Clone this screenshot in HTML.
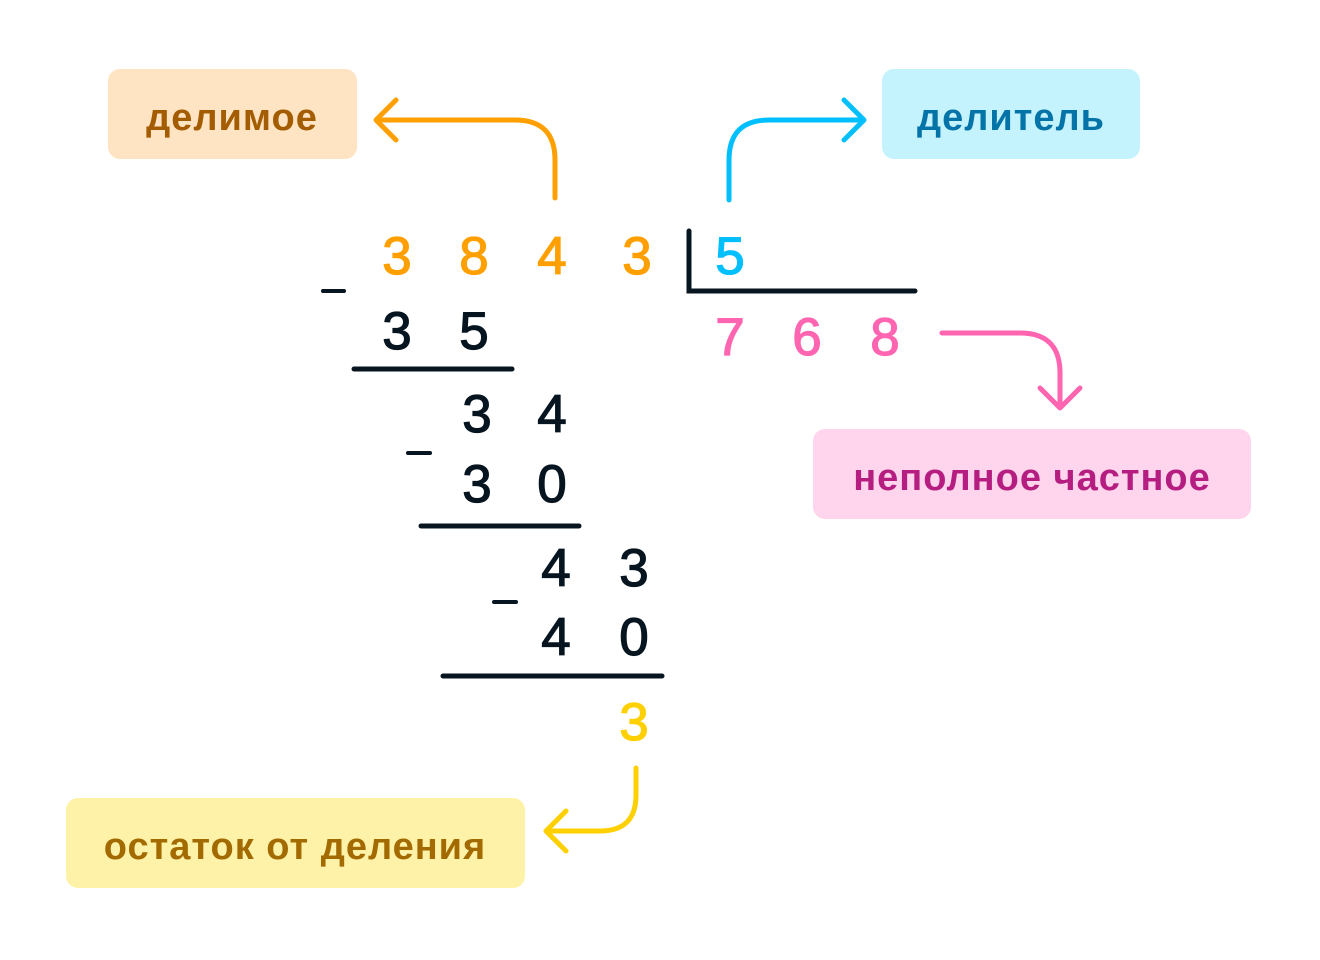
<!DOCTYPE html>
<html><head><meta charset="utf-8"><style>body{margin:0;background:#fff}svg{display:block}</style></head>
<body>
<svg width="1320" height="960" viewBox="0 0 1320 960" xmlns="http://www.w3.org/2000/svg" font-family="Liberation Sans, DejaVu Sans, sans-serif">
<rect x="108" y="69" width="249" height="90" rx="12" fill="#FEE4C3"/>
<text x="232" y="130" font-size="38" letter-spacing="1" font-weight="bold" fill="#A35C00" text-anchor="middle">делимое</text>
<rect x="882" y="69" width="258" height="90" rx="12" fill="#C4F3FE"/>
<text x="1011" y="130" font-size="38" letter-spacing="1" font-weight="bold" fill="#0474A8" text-anchor="middle">делитель</text>
<rect x="813" y="429" width="438" height="90" rx="12" fill="#FED5EC"/>
<text x="1032" y="490" font-size="38" letter-spacing="1" font-weight="bold" fill="#B51E80" text-anchor="middle">неполное частное</text>
<rect x="66" y="798" width="459" height="90" rx="12" fill="#FEF2A9"/>
<text x="295" y="859" font-size="38" letter-spacing="1" font-weight="bold" fill="#A36A00" text-anchor="middle">остаток от деления</text>
<g fill="none" stroke-width="5" stroke-linecap="round" stroke-linejoin="round">
<path d="M555 198 V160 Q555 120 515 120 H376 M396 100 L376 120 L396 140" stroke="#FFA000"/>
<path d="M729 200 V160 Q729 120 769 120 H864 M844 100 L864 120 L844 140" stroke="#00BFFF"/>
<path d="M942 333 H1020 Q1060 333 1060 373 V408 M1040 388 L1060 408 L1080 388" stroke="#FF65B0"/>
<path d="M636 768 V795 Q636 831 600 831 H546 M566 811 L546 831 L566 851" stroke="#FFD000"/>
</g>
<g stroke="#071520" stroke-width="5" stroke-linecap="round" fill="none">
<path d="M689 231 V291 H915"/>
<line x1="354" y1="369" x2="512" y2="369"/>
<line x1="421" y1="526" x2="579" y2="526"/>
<line x1="443" y1="676" x2="662" y2="676"/>
<line x1="323" y1="291" x2="344" y2="291" stroke-width="4"/>
<line x1="408" y1="453" x2="430" y2="453" stroke-width="4"/>
<line x1="494" y1="602" x2="516" y2="602" stroke-width="4"/>
</g>
<g font-size="53" text-anchor="middle" stroke-width="1.2">
<g fill="#FFA000" stroke="#FFA000"><text x="397" y="274">3</text><text x="474" y="274">8</text><text x="552" y="274">4</text><text x="637" y="274">3</text></g>
<text x="730" y="274" fill="#00BFFF" stroke="#00BFFF">5</text>
<g fill="#FF65B0" stroke="#FF65B0"><text x="730" y="355">7</text><text x="807" y="355">6</text><text x="885" y="355">8</text></g>
<g fill="#071520" stroke="#071520">
<text x="397" y="349">3</text><text x="474" y="349">5</text>
<text x="477" y="432">3</text><text x="552" y="432">4</text>
<text x="477" y="502">3</text><text x="552" y="502">0</text>
<text x="556" y="586">4</text><text x="634" y="586">3</text>
<text x="556" y="655">4</text><text x="634" y="655">0</text>
</g>
<text x="634" y="740" fill="#FFD000" stroke="#FFD000">3</text>
</g>
</svg>
</body></html>
